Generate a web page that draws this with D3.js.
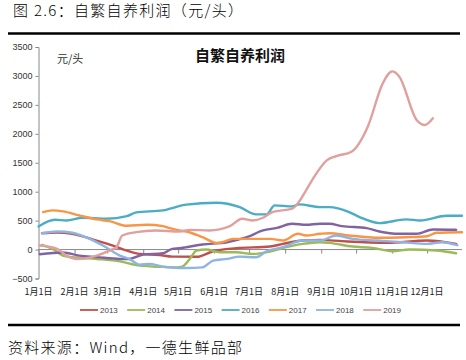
<!DOCTYPE html>
<html><head><meta charset="utf-8">
<script src="https://cdn.jsdelivr.net/npm/d3@7"></script>
<style>
body{margin:0;background:#fff;}
svg{display:block;}
</style></head>
<body>
<svg id="c" width="466" height="360"></svg>
<script>
// ---------- data ----------
const years = ["2013","2014","2015","2016","2017","2018","2019"];
const colors = ["#C0504D","#9BBB59","#8064A2","#4BACC6","#F79646","#8EB4E3","#E0A09E"];
const yTicks = [-500,0,500,1000,1500,2000,2500,3000,3500];
const xTickLabels = ["1月1日","2月1日","3月1日","4月1日","5月1日","6月1日","7月1日","8月1日","9月1日","10月1日","11月1日","12月1日"];

const s2013 = [["01-04",283],["01-17",295],["01-30",272],["02-20",156],["03-06",69],["03-18",-17],["03-29",-75],["04-15",-95],["04-26",-122],["05-17",-125],["05-31",-29],["06-20",23],["07-19",52],["07-30",98],["08-16",156],["08-31",168],["09-19",145],["10-27",116],["12-01",156],["12-26",98]];
const s2014 = [["01-04",81],["01-13",12],["01-22",-104],["01-30",-133],["02-20",-162],["03-12",-203],["03-29",-278],["04-18",-300],["04-30",-307],["05-05",-290],["05-11",-162],["05-17",-17],["05-25",0],["06-06",-46],["06-20",-46],["07-04",-75],["07-19",-35],["08-02",41],["08-16",98],["08-31",127],["09-08",116],["09-28",52],["10-15",29],["11-01",-29],["11-16",0],["12-09",-17],["12-26",-64]];
const s2015 = [["01-02",-80],["01-22",-50],["02-05",-104],["02-20",-130],["03-12",-162],["03-20",-162],["04-01",-87],["04-18",-64],["04-26",12],["05-02",23],["05-08",41],["05-22",87],["06-12",127],["06-29",214],["07-13",330],["07-25",376],["08-07",446],["08-19",428],["08-31",446],["09-08",446],["09-19",405],["10-10",370],["10-21",312],["11-07",272],["11-22",272],["12-06",347],["12-26",341]];
const s2016 = [["01-01",400],["01-15",515],["01-25",503],["02-08",550],["02-28",533],["03-18",578],["03-26",642],["04-18",677],["04-24",706],["05-08",776],["06-03",810],["06-23",734],["07-07",608],["07-16",608],["07-23",764],["08-07",746],["08-13",781],["08-31",734],["09-08",734],["09-25",648],["10-04",561],["10-21",457],["11-13",521],["11-25",503],["12-18",585],["12-31",585]];
const s2017 = [["01-05",648],["01-13",677],["01-22",660],["02-05",590],["02-20",521],["03-03",492],["03-18",411],["04-04",428],["04-18",405],["04-24",370],["05-02",330],["05-08",312],["05-22",214],["06-03",116],["06-08",127],["06-17",185],["07-04",185],["07-19",185],["07-30",156],["08-12",272],["08-19",243],["08-31",272],["09-08",283],["09-25",243],["10-21",203],["11-13",214],["12-01",231],["12-09",290],["12-31",300]];
const s2018 = [["01-04",283],["01-17",312],["01-30",290],["02-14",185],["02-28",41],["03-12",-104],["03-20",-162],["03-29",-260],["04-06",-249],["04-18",-295],["05-02",-318],["05-08",-318],["05-22",-307],["05-31",-191],["06-12",-162],["06-23",-122],["07-07",-133],["07-16",-29],["07-30",41],["08-16",156],["08-31",156],["09-14",243],["09-28",185],["10-19",156],["11-10",127],["12-01",98],["12-14",127],["12-27",75]];
const s2019 = [["01-02",69],["01-17",12],["01-25",-104],["02-03",-162],["02-11",-150],["02-20",-104],["03-03",-17],["03-09",41],["03-14",243],["03-26",301],["04-12",330],["05-02",312],["05-11",341],["05-28",330],["06-14",399],["06-25",533],["07-04",503],["07-13",550],["07-21",648],["08-07",706],["08-13",830],["08-19",1024],["08-25",1227],["09-06",1545],["09-14",1615],["09-27",1690],["10-11",2124],["10-24",2876],["11-01",3078],["11-07",2991],["11-22",2240],["11-29",2153],["12-06",2269]];
const seriesData = [s2013,s2014,s2015,s2016,s2017,s2018,s2019];

// ---------- chart ----------
const svg = d3.select("#c");
const cjk = "'Noto Sans CJK SC','Noto Sans',sans-serif";
const lat = "'Liberation Sans',Arial,sans-serif";
const parse = d3.timeParse("%Y-%m-%d");
const toDate = md => parse("2019-" + md);

const x = d3.scaleTime().domain([toDate("01-01"), toDate("12-31")]).range([38.5, 462]);
const y = d3.scaleLinear().domain([-500, 3500]).range([278.5, 47]);

// header
svg.append("text").attr("x",13).attr("y",16).attr("font-family",cjk).attr("font-size",15)
  .attr("font-weight",300).attr("fill","#000")
  .attr("textLength",230).attr("lengthAdjust","spacing")
  .text("图 2.6：自繁自养利润（元/头）");
svg.append("line").attr("x1",8).attr("x2",460).attr("y1",33.5).attr("y2",33.5).attr("stroke","#000").attr("stroke-width",2.5);

// chart title
svg.append("text").attr("x",240).attr("y",61).attr("text-anchor","middle").attr("font-family",cjk)
  .attr("font-size",15).attr("font-weight","bold").attr("fill","#111").text("自繁自养利润");
svg.append("text").attr("x",57).attr("y",63).attr("font-family",cjk).attr("font-size",11)
  .attr("fill","#333").text("元/头");

// y axis
const yAxis = d3.axisLeft(y).tickValues(yTicks).tickSize(3).tickPadding(3).tickFormat(d3.format("d"));
const gy = svg.append("g").attr("transform","translate(38.5,0)").call(yAxis);
gy.select(".domain").attr("stroke","#888");
gy.selectAll(".tick line").attr("stroke","#888");
gy.selectAll(".tick text").attr("font-family",lat).attr("font-size",9).attr("fill","#333");

// x axis along zero line
const monthTicks = d3.range(12).map(m => new Date(2019, m, 1));
const xAxis = d3.axisBottom(x).tickValues(monthTicks).tickSize(4).tickFormat("");
const gx = svg.append("g").attr("transform",`translate(0,${y(0)})`).call(xAxis);
gx.select(".domain").attr("stroke","#888").attr("d", `M38.5,0H462`);
gx.selectAll(".tick line").attr("stroke","#888");

// x labels at bottom (low position)
svg.append("g").selectAll("text").data(monthTicks).join("text")
  .attr("x", d => x(d)).attr("y", 295).attr("text-anchor","middle")
  .attr("font-family",cjk).attr("font-size",9).attr("fill","#222")
  .text((d,i) => xTickLabels[i]);

// lines
const line = d3.line().x(d => x(toDate(d[0]))).y(d => y(d[1])).curve(d3.curveMonotoneX);
svg.append("g").selectAll("path").data(seriesData).join("path")
  .attr("d", line).attr("fill","none")
  .attr("stroke",(d,i) => colors[i]).attr("stroke-width",2.4)
  .attr("stroke-linejoin","round").attr("stroke-linecap","round");

// legend
const lg = svg.append("g");
years.forEach((yr,i) => {
  const x0 = 80 + i*47.2;
  lg.append("line").attr("x1",x0).attr("x2",x0+18).attr("y1",310).attr("y2",310)
    .attr("stroke",colors[i]).attr("stroke-width",1.8);
  lg.append("text").attr("x",x0+20).attr("y",313).attr("font-family",lat).attr("font-size",8)
    .attr("fill","#444").text(yr);
});

// footer
svg.append("line").attr("x1",8).attr("x2",460).attr("y1",325).attr("y2",325).attr("stroke","#000").attr("stroke-width",2.5);
svg.append("text").attr("x",8).attr("y",353).attr("font-family",cjk).attr("font-size",15)
  .attr("font-weight",300).attr("fill","#000")
  .attr("textLength",234).attr("lengthAdjust","spacing")
  .text("资料来源：Wind，一德生鲜品部");
</script>
</body></html>
